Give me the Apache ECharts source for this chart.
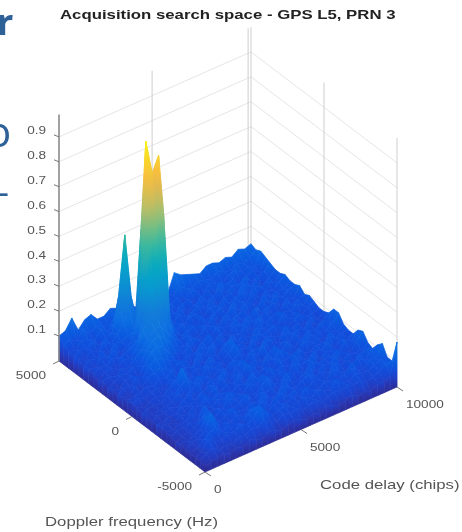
<!DOCTYPE html>
<html>
<head>
<meta charset="utf-8">
<style>html,body{margin:0;padding:0;background:#fff;overflow:hidden}#c{width:462px;height:532px;filter:blur(0.55px)}</style>
<script src="https://cdn.jsdelivr.net/npm/echarts@6/dist/echarts.min.js"></script>
</head>
<body>
<div id="c"></div>
<script>
const titleText = 'Acquisition search space - GPS L5, PRN 3';
const delayTicks = [0, 5000, 10000];
const dopplerTicks = [-5000, 0, 5000];
const zTicks = [0.1, 0.2, 0.3, 0.4, 0.5, 0.6, 0.7, 0.8, 0.9];
const delayName = 'Code delay (chips)';
const dopplerName = 'Doppler frequency (Hz)';
const slideFragments = ['r', 'o', '–'];

// Correlation in hundredths. Rows run from Doppler +5000 (first) to -5000 (last),
// columns from code delay 0 to 10000.
const correlation = [
[10,11,15,9,12,13,10,10,12,11,12,10,8,10,10,9,8,8,15,13,12,11,10,12,12,11,12,11,13,12,13],
[8,9,7,11,8,10,9,8,10,12,9,8,9,7,8,9,7,8,11,9,8,10,9,8,10,9,8,10,9,10,12],
[7,6,9,8,7,10,8,10,20,11,8,7,8,9,7,6,8,9,7,10,8,7,9,8,7,9,10,8,9,8,13],
[6,8,7,9,6,8,9,22,46,20,8,9,7,8,6,9,7,8,9,6,8,9,7,10,8,9,7,8,9,7,12],
[7,5,8,6,9,7,10,13,18,11,9,7,9,11,9,8,9,6,8,9,7,8,10,7,9,8,10,7,8,9,11],
[5,7,6,8,6,9,8,10,10,50,40,30,11,8,7,9,7,8,9,7,9,6,8,9,7,10,8,9,6,8,10],
[6,5,8,7,9,6,8,9,24,87,73,79,24,9,8,7,9,8,6,9,8,9,7,8,10,7,9,8,9,7,10],
[5,7,6,8,7,8,9,11,20,45,50,58,14,8,9,8,6,9,7,8,9,7,9,8,7,9,6,8,7,9,11],
[4,6,7,5,8,7,10,16,21,22,20,16,9,7,8,9,8,7,9,6,8,10,7,9,8,6,9,7,8,8,10],
[5,6,5,7,6,9,11,14,17,17,14,10,8,9,7,6,9,8,7,9,7,8,9,6,8,9,7,9,7,9,10],
[4,5,7,6,8,7,12,15,16,14,10,8,7,9,8,7,6,9,8,7,9,7,8,10,7,8,9,6,8,7,11],
[5,4,6,7,5,9,13,14,13,9,8,7,9,6,8,10,7,8,6,9,8,9,7,8,9,7,6,9,7,8,9],
[4,6,5,8,7,10,12,11,9,8,6,8,7,9,7,8,9,6,8,7,9,6,10,7,8,9,8,7,9,7,10],
[5,4,7,5,8,9,10,8,7,9,8,6,9,7,10,6,8,9,7,8,6,9,7,8,6,9,7,8,6,8,9],
[5,5,6,7,6,8,7,9,6,8,7,9,6,8,7,9,11,7,8,6,9,7,8,9,7,6,8,9,7,7,8],
[5,6,5,6,7,5,8,7,9,6,8,7,9,7,6,8,11,8,7,9,6,8,7,6,9,7,8,6,8,6,8],
[5,4,5,6,5,7,9,13,8,7,6,9,7,8,6,7,9,6,8,7,9,8,6,9,7,8,7,9,6,7,9],
[4,5,5,5,7,6,8,10,7,9,8,6,8,7,9,8,6,9,7,10,7,6,8,7,9,6,8,7,9,8,12],
[5,4,5,5,6,8,6,7,9,6,8,7,9,6,8,10,7,8,6,8,10,7,9,6,8,9,7,8,7,9,12],
[4,5,5,6,5,7,8,6,7,8,7,9,6,8,7,10,8,6,9,7,10,8,6,7,9,7,8,6,8,7,9],
[4,4,5,5,7,6,7,8,6,9,6,8,7,9,6,8,7,8,6,9,7,8,9,7,6,8,7,9,7,8,8],
[5,5,4,6,5,7,6,9,7,8,7,6,8,7,10,7,6,9,7,8,6,9,7,6,8,7,9,6,8,7,8],
[4,4,5,5,7,5,8,6,8,7,9,7,6,9,7,10,8,7,8,6,9,7,8,9,6,8,7,6,9,8,11],
[4,5,5,6,5,9,7,7,6,9,7,8,7,6,8,10,7,6,9,8,7,6,9,7,8,7,9,7,6,9,12],
[3,4,5,5,8,10,6,8,7,6,8,9,6,8,7,8,6,9,7,6,8,9,6,8,7,9,6,8,7,7,9],
[4,4,5,6,10,7,6,7,9,7,6,8,7,9,6,7,9,7,6,8,9,7,8,6,9,7,8,6,8,9,8],
[3,5,5,7,13,8,7,6,8,6,8,7,9,6,8,9,6,8,7,6,8,7,6,9,7,6,8,9,7,10,11],
[3,4,6,8,9,6,8,7,6,9,10,7,6,8,7,6,8,6,9,7,6,8,7,6,8,9,7,6,9,8,13],
[3,4,8,6,5,7,6,8,7,8,12,9,6,7,8,6,7,8,6,8,7,6,9,7,6,8,7,7,8,9,9],
[3,5,6,4,5,4,6,5,7,6,8,6,5,7,6,7,5,6,7,5,6,7,6,7,6,7,5,6,7,9,9],
[2,3,3,4,3,4,3,5,4,3,5,4,3,4,5,4,3,4,3,5,4,3,4,5,3,4,3,5,4,6,18]
];

// Colour map (parula) and its range
const cmapStops = [0, .03, .06, .09, .12, .16, .25, .33, .42, .5, .58, .65, .75, .82, .9, 1];
const cmapColors = ['#2c2a8e', '#2a35b0', '#1a44d0', '#0f50dd', '#0a5ee0', '#0c6ee2', '#1480d6', '#0798d1', '#06a9c1', '#2eb7a4', '#67be88', '#a9bf6f', '#e1b94f', '#fcbf3c', '#f5dc25', '#f9fb0e'];
const colorMax = 0.9;

// Oblique view of the 3-D box, in the hidden page-sized cartesian system
const view = { fx: 205, fy: 472, dx: 192, dy: -85, px: -146, py: -111, zs: 249, zTop: 0.99, textStretch: 1.24 };
function project(delay, doppler, z) {
  const a = delay / 10000, b = (doppler + 5000) / 10000;
  return [view.fx + a * view.dx + b * view.px, view.fy + a * view.dy + b * view.py - z * view.zs];
}
function hex(c) { return [1, 3, 5].map(n => parseInt(c.substr(n, 2), 16)); }
function colorOf(z) {
  const t = Math.max(0, Math.min(1, z / colorMax));
  let n = 0;
  while (n < cmapStops.length - 2 && t > cmapStops[n + 1]) n++;
  const f = (t - cmapStops[n]) / (cmapStops[n + 1] - cmapStops[n]);
  const a = hex(cmapColors[n]), b = hex(cmapColors[n + 1]);
  return 'rgb(' + a.map((v, m) => Math.round(v + (b[m] - v) * f)).join(',') + ')';
}

const nRows = correlation.length, nCols = correlation[0].length;
const delayAt = i => i / (nCols - 1) * 10000;
const dopplerAt = k => k / (nRows - 1) * 10000 - 5000;      // k counted from -5000
const zAt = (i, k) => correlation[nRows - 1 - k][i] / 100;

function paintFor(points, zs) {
  let lo = 0, hi = 0;
  zs.forEach((z, n) => { if (z < zs[lo]) lo = n; if (z > zs[hi]) hi = n; });
  const p0 = points[lo], p1 = points[hi];
  if (zs[hi] - zs[lo] < 0.004 || (p0[0] === p1[0] && p0[1] === p1[1])) return colorOf(zs[hi]);
  const stops = [0, .2, .4, .6, .8, 1].map(o => ({ offset: o, color: colorOf(zs[lo] + (zs[hi] - zs[lo]) * o) }));
  return new echarts.graphic.LinearGradient(p0[0], p0[1], p1[0], p1[1], stops, true);
}

// Surface cells back to front, then the front skirts
const cellData = [];
for (let i = nCols - 2; i >= 0; i--) for (let k = nRows - 2; k >= 0; k--) cellData.push([i, k, 0]);
for (let k = nRows - 2; k >= 0; k--) cellData.push([0, k, 1]);
for (let i = nCols - 2; i >= 0; i--) cellData.push([i, 0, 2]);

function renderCell(params, api) {
  const i = api.value(0), k = api.value(1), kind = api.value(2);
  let verts;
  if (kind === 0) {
    verts = [[i, k, zAt(i, k)], [i + 1, k, zAt(i + 1, k)], [i + 1, k + 1, zAt(i + 1, k + 1)], [i, k + 1, zAt(i, k + 1)]];
  } else if (kind === 1) {
    verts = [[i, k, 0], [i, k + 1, 0], [i, k + 1, zAt(i, k + 1)], [i, k, zAt(i, k)]];
  } else {
    verts = [[i, k, 0], [i + 1, k, 0], [i + 1, k, zAt(i + 1, k)], [i, k, zAt(i, k)]];
  }
  const pts = verts.map(v => api.coord(project(delayAt(v[0]), dopplerAt(v[1]), v[2])));
  const paint = paintFor(pts, verts.map(v => v[2]));
  return { type: 'polygon', shape: { points: pts }, style: { fill: paint, stroke: paint, lineWidth: 0.7 }, silent: true };
}

// Wall grid lines: start and end in data space, with a style index
const lineStyles = [
  { stroke: '#e6e6e6', lineWidth: 1 },
  { stroke: '#cfcfcf', lineWidth: 1 },
  { stroke: '#8a8a8a', lineWidth: 1.6 },
  { stroke: '#777777', lineWidth: 1 }
];
const wallData = [];
zTicks.forEach(z => {
  wallData.push([0, 5000, z, 10000, 5000, z, 0]);
  wallData.push([10000, 5000, z, 10000, -5000, z, 0]);
});
[4850, 9850, 10000].forEach(d => wallData.push([d, 5000, 0, d, 5000, 1, 1]));
[0, -5000].forEach(p => wallData.push([10000, p, 0, 10000, p, 1, 1]));
const axisData = [[0, 5000, 0, 0, 5000, view.zTop, 2]];

function renderLine(params, api) {
  const a = api.coord(project(api.value(0), api.value(1), api.value(2)));
  const b = api.coord(project(api.value(3), api.value(4), api.value(5)));
  return { type: 'line', shape: { x1: a[0], y1: a[1], x2: b[0], y2: b[1] }, style: lineStyles[api.value(6)], silent: true };
}

// Tick marks: [delay, doppler, z, pixel dx, pixel dy]
const tickData = [];
zTicks.forEach(z => tickData.push([0, 5000, z, -5, -2]));
dopplerTicks.forEach(p => tickData.push([0, p, 0, -6, 3]));
delayTicks.forEach(d => tickData.push([d, -5000, 0, 6, 4]));
function renderTick(params, api) {
  const a = api.coord(project(api.value(0), api.value(1), api.value(2)));
  return { type: 'line', shape: { x1: a[0], y1: a[1], x2: a[0] + api.value(3), y2: a[1] + api.value(4) }, style: lineStyles[3], silent: true };
}

// Tick labels
const labelItems = [];
zTicks.forEach(z => labelItems.push({ text: z.toFixed(1), at: [0, 5000, z], ox: -13, oy: -6, align: 'right' }));
dopplerTicks.forEach(p => labelItems.push({ text: String(p), at: [0, p, 0], ox: -13, oy: 15, align: 'right' }));
delayTicks.forEach(d => labelItems.push({ text: String(d), at: [d, -5000, 0], ox: 9, oy: 18, align: 'left' }));
function renderLabel(params, api) {
  const it = labelItems[params.dataIndex];
  const a = api.coord(project(it.at[0], it.at[1], it.at[2]));
  return { type: 'text', silent: true, x: a[0] + it.ox, y: a[1] + it.oy, scaleX: 1.18, style: { text: it.text, x: 0, y: 0, align: it.align, verticalAlign: 'middle', fill: '#555555', font: '11.5px "Liberation Sans"' } };
}

const chart = echarts.init(document.getElementById('c'), null, { renderer: 'canvas' });
chart.setOption({
  animation: false,
  backgroundColor: '#ffffff',
  grid: { left: 0, right: 0, top: 0, bottom: 0 },
  xAxis: { type: 'value', min: 0, max: 462, show: false },
  yAxis: { type: 'value', min: 0, max: 532, inverse: true, show: false },
  tooltip: { show: false },
  series: [
    { type: 'custom', name: 'walls', coordinateSystem: 'cartesian2d', clip: false, silent: true, data: wallData, renderItem: renderLine, z: 1 },
    { type: 'custom', name: 'surface', coordinateSystem: 'cartesian2d', clip: false, silent: true, progressive: 0, data: cellData, renderItem: renderCell, z: 2 },
    { type: 'custom', name: 'axis', coordinateSystem: 'cartesian2d', clip: false, silent: true, data: axisData, renderItem: renderLine, z: 3 },
    { type: 'custom', name: 'ticks', coordinateSystem: 'cartesian2d', clip: false, silent: true, data: tickData, renderItem: renderTick, z: 3 },
    { type: 'custom', name: 'labels', coordinateSystem: 'cartesian2d', clip: false, silent: true, data: labelItems.map((d, n) => [n, 0]), renderItem: renderLabel, z: 4 }
  ],
  graphic: [
    { type: 'text', x: 60, y: 9, scaleX: 1.29, silent: true, style: { text: titleText, fill: '#222222', font: 'bold 13px "Liberation Sans"' } },
    { type: 'text', x: 320, y: 478, scaleX: view.textStretch, silent: true, style: { text: delayName, fill: '#555555', font: '13.5px "Liberation Sans"' } },
    { type: 'text', x: 45, y: 515, scaleX: view.textStretch, silent: true, style: { text: dopplerName, fill: '#555555', font: '13.5px "Liberation Sans"' } },
    { type: 'text', x: -3, y: 7, silent: true, style: { text: slideFragments[0], fill: '#2f6199', font: 'bold 36px "Open Sans"' } },
    { type: 'text', x: -14, y: 114, silent: true, style: { text: slideFragments[1], fill: '#2f6199', font: '42px "Open Sans"' } },
    { type: 'text', x: -9, y: 177, silent: true, style: { text: slideFragments[2], fill: '#2f6199', font: '36px "Open Sans"' } }
  ]
});
</script>
</body>
</html>
